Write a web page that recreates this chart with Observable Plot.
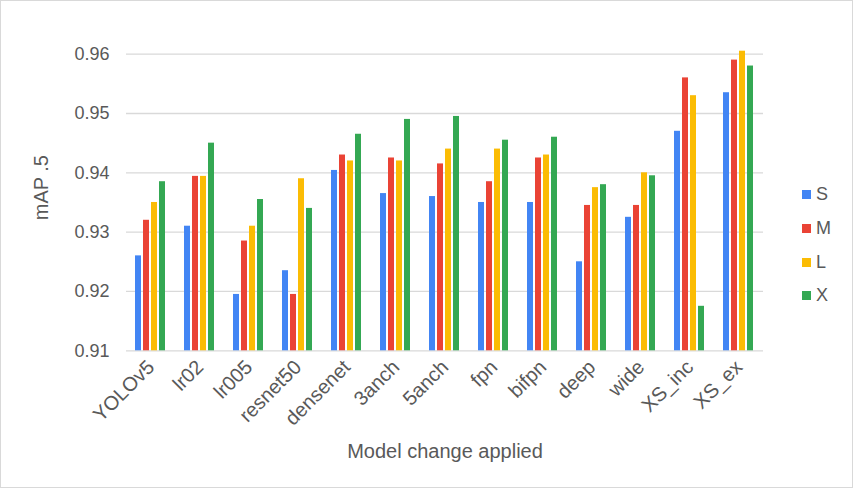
<!DOCTYPE html>
<html>
<head>
<meta charset="utf-8">
<script src="https://cdn.jsdelivr.net/npm/d3@7"></script>
<script src="https://cdn.jsdelivr.net/npm/@observablehq/plot@0.6"></script>
<style>
  html, body { margin: 0; padding: 0; background: #fff; }
  #wrap { position: relative; width: 853px; height: 488px; font-family: "Liberation Sans", Arial, sans-serif; }
  #border { position: absolute; left: 0; top: 0; width: 853px; height: 488px; box-sizing: border-box; border: 1.5px solid #d9d9d9; pointer-events: none; }
  #legend { position: absolute; left: 802px; top: 178px; color: #595959; font-size: 18px; }
  #legend .row { display: flex; align-items: center; height: 33.7px; }
  #legend .sw { width: 9px; height: 9px; margin-right: 5px; }
  g[aria-label="y-axis label"] text, g[aria-label="fx-axis label"] text { font-size: 20px; }
</style>
</head>
<body>
<div id="wrap"><div id="chart"></div><div id="legend"></div><div id="border"></div></div>
<script>
const categories = ["YOLOv5","lr02","lr005","resnet50","densenet","3anch","5anch","fpn","bifpn","deep","wide","XS_inc","XS_ex"];
const seriesNames = ["S","M","L","X"];
const seriesColors = ["#4285F4","#EA4335","#FBBC04","#34A853"];
const S = [0.926,0.931,0.9195,0.9235,0.9404,0.9365,0.936,0.935,0.935,0.925,0.9325,0.947,0.9535];
const M = [0.932,0.9394,0.9285,0.9195,0.943,0.9425,0.9415,0.9385,0.9425,0.9345,0.9345,0.956,0.959];
const L = [0.935,0.9394,0.931,0.939,0.942,0.942,0.944,0.944,0.943,0.9375,0.94,0.953,0.9605];
const X = [0.9385,0.945,0.9355,0.934,0.9465,0.949,0.9495,0.9455,0.946,0.938,0.9395,0.9175,0.958];
const yTicks = [0.91,0.92,0.93,0.94,0.95,0.96];
const yMin = 0.91;
const yMax = 0.965;

const seriesValues = {S, M, L, X};
const data = [];
categories.forEach((c, i) => seriesNames.forEach(s => data.push({cat: c, series: s, value: seriesValues[s][i]})));

const chart = Plot.plot({
  width: 853,
  height: 488,
  marginLeft: 120,
  marginRight: 84,
  marginTop: 24,
  marginBottom: 137.7,
  style: {fontFamily: '"Liberation Sans", Arial, sans-serif', color: "#595959", background: "transparent", overflow: "visible"},
  fx: {domain: categories, padding: 0},
  x: {domain: seriesNames, paddingInner: 0.22, paddingOuter: 0.88, axis: null},
  y: {domain: [yMin, yMax]},
  color: {domain: seriesNames, range: seriesColors},
  marks: [
    Plot.gridY(yTicks, {stroke: "#d9d9d9", strokeOpacity: 1, strokeWidth: 1.3}),
    Plot.barY(data, {fx: "cat", x: "series", y1: yMin, y2: "value", fill: "series"}),
    Plot.axisY({ticks: yTicks, tickSize: 0, tickPadding: 17, fontSize: 18, label: "mAP .5", labelArrow: "none", labelAnchor: "center", labelOffset: 93, tickFormat: d3.format(".2f")}),
    Plot.axisFx({anchor: "bottom", tickRotate: -45, tickSize: 0, tickPadding: 13, fontSize: 20, label: "Model change applied", labelArrow: "none", labelAnchor: "center", labelOffset: 107})
  ]
});
document.getElementById("chart").appendChild(chart);

const legend = document.getElementById("legend");
seriesNames.forEach((s, i) => {
  const row = document.createElement("div");
  row.className = "row";
  row.innerHTML = `<span class="sw" style="background:${seriesColors[i]}"></span><span>${s}</span>`;
  legend.appendChild(row);
});
</script>
</body>
</html>
